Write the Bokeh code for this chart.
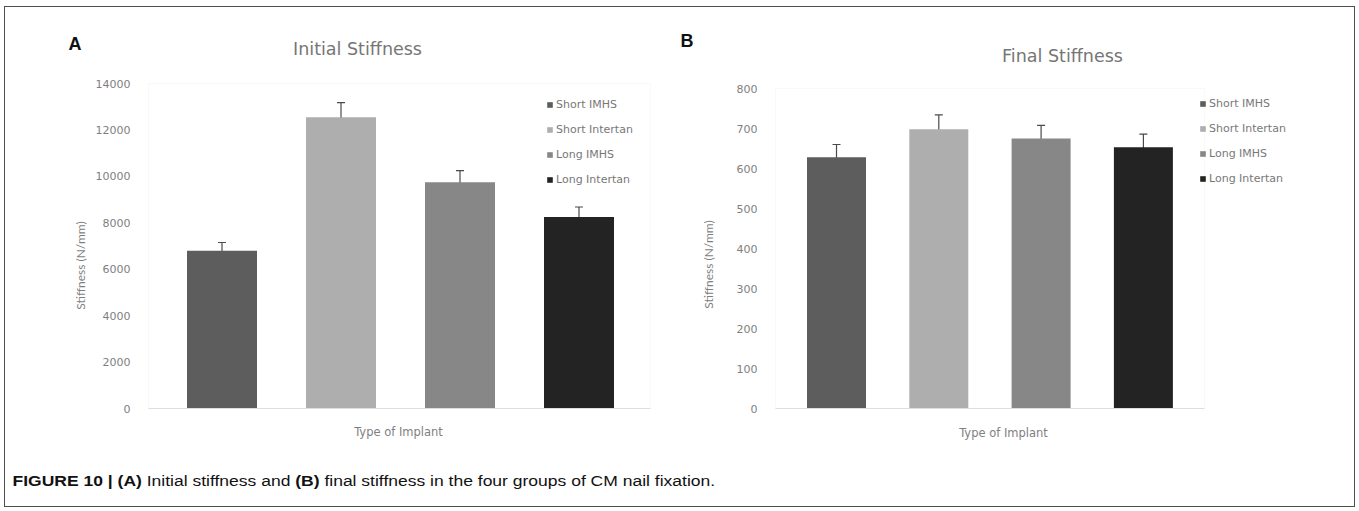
from bokeh.plotting import figure
from bokeh.models import (ColumnDataSource, Whisker, TeeHead, Legend, LegendItem,
                          Label, Div, Range1d, FixedTicker, LinearAxis, BoxAnnotation)
from bokeh.layouts import row, column
from bokeh.embed import file_html
from bokeh.resources import INLINE

# ---------------- data ----------------
groups = ["Short IMHS", "Short Intertan", "Long IMHS", "Long Intertan"]
bar_colors = ["#5d5d5d", "#aeaeae", "#878787", "#232323"]

initial_stiffness = [6800, 12550, 9750, 8250]
initial_error = [350, 630, 500, 430]
initial_ticks = [0, 2000, 4000, 6000, 8000, 10000, 12000, 14000]

final_stiffness = [628, 698, 675, 653]
final_error = [32, 36, 33, 33]
final_ticks = [0, 100, 200, 300, 400, 500, 600, 700, 800]

x_title = "Type of Implant"
y_title = "Stiffness (N/mm)"

WIDE = "DejaVu Sans"
NARROW = "Lato"
GRAY = "#7f7f7f"

# ---------------- layout geometry (page pixels) ----------------
TOP, BOTTOM = 7, 450          # vertical extent of both chart canvases


def panel(title, letter, vals, errs, ticks, fig_left, fig_right,
          area_left, area_right, area_top, area_bottom, step_px, first_px, bar_px,
          title_pos, letter_pos, ylab_pos, xlab_pos, legend_pos):
    W = fig_right - fig_left
    H = BOTTOM - TOP
    ymax = ticks[-1]
    upp = ymax / (area_bottom - area_top)          # data units per pixel
    y0 = -(BOTTOM - area_bottom) * upp
    y1 = ymax + (area_top - TOP) * upp

    def xd(px):                                      # page x -> category units
        return (px - first_px) / step_px

    x_lo, x_hi = xd(area_left), xd(area_right)

    xs = list(range(len(groups)))
    src = ColumnDataSource(dict(
        x=xs, top=vals,
        upper=[v + e for v, e in zip(vals, errs)],
        lower=[v - e for v, e in zip(vals, errs)],
        color=bar_colors, label=groups))

    p = figure(x_range=Range1d(xd(fig_left), xd(fig_right)),
               y_range=Range1d(y0, y1),
               width=W, height=H, output_backend="svg",
               toolbar_location=None, x_axis_type=None, y_axis_type=None,
               min_border=0)
    p.outline_line_color = None
    p.grid.visible = False
    p.background_fill_color = "white"
    p.border_fill_color = "white"

    # faint plot-area border
    p.add_layout(BoxAnnotation(left=x_lo, right=x_hi, bottom=0, top=ymax,
                               fill_alpha=0, line_color="#ebebeb", line_width=1))

    r = p.vbar(x="x", top="top", width=bar_px / step_px, source=src,
               color="color", line_color=None)
    head = dict(size=8, line_color="#4a4a4a", line_width=1.2)
    p.add_layout(Whisker(source=src, base="x", upper="upper", lower="lower",
                         line_color="#4a4a4a", line_width=1.2,
                         upper_head=TeeHead(**head), lower_head=TeeHead(**head)))

    ya = LinearAxis(fixed_location=x_lo, bounds=(0, ymax),
                    ticker=FixedTicker(ticks=ticks))
    ya.axis_line_color = None
    ya.major_tick_line_color = None
    ya.minor_tick_line_color = None
    ya.major_label_standoff = 12
    ya.major_label_text_font = WIDE
    ya.major_label_text_font_size = "11px"
    ya.major_label_text_color = GRAY
    p.add_layout(ya, "left")

    xa = LinearAxis(fixed_location=0, bounds=(x_lo, x_hi),
                    ticker=FixedTicker(ticks=[]))
    xa.axis_line_color = "#d9d9d9"
    xa.axis_line_width = 1
    xa.major_tick_line_color = None
    xa.minor_tick_line_color = None
    p.add_layout(xa, "below")

    def sx(px):
        return px - fig_left

    def sy(py):
        return BOTTOM - py

    p.add_layout(Label(x=sx(title_pos[0]), y=sy(title_pos[1]), x_units="screen",
                       y_units="screen", text=title, text_font=WIDE,
                       text_font_size="17.5px", text_color="#767676",
                       text_align="center", text_baseline="alphabetic"))
    p.add_layout(Label(x=sx(letter_pos[0]), y=sy(letter_pos[1]), x_units="screen",
                       y_units="screen", text=letter, text_font="Liberation Sans",
                       text_font_size="18px", text_font_style="bold",
                       text_color="#111111", text_align="left",
                       text_baseline="alphabetic"))
    p.add_layout(Label(x=sx(ylab_pos[0]), y=sy(ylab_pos[1]), x_units="screen",
                       y_units="screen", text=y_title, text_font=NARROW,
                       text_font_size="12px", text_color=GRAY, text_align="center",
                       text_baseline="middle", angle=90, angle_units="deg"))
    p.add_layout(Label(x=sx(xlab_pos[0]), y=sy(xlab_pos[1]), x_units="screen",
                       y_units="screen", text=x_title, text_font=WIDE,
                       text_font_size="11.5px", text_color=GRAY,
                       text_align="center", text_baseline="middle"))

    items = [LegendItem(label=g, renderers=[r], index=i) for i, g in enumerate(groups)]
    lg = Legend(items=items, location=(sx(legend_pos[0]) - 1, legend_pos[1]),
                orientation="vertical",
                glyph_width=7, glyph_height=7, label_height=14, spacing=11,
                label_standoff=3, padding=0, margin=0,
                label_text_font=WIDE, label_text_font_size="11px",
                label_text_color="#787878", border_line_alpha=0,
                background_fill_alpha=0)
    p.add_layout(lg)
    return p


pa = panel("Initial Stiffness", "A", initial_stiffness, initial_error, initial_ticks,
           fig_left=5, fig_right=679, area_left=148, area_right=650,
           area_top=83, area_bottom=408, step_px=119, first_px=221.5, bar_px=70,
           title_pos=(357, 48), letter_pos=(68, 43), ylab_pos=(80, 265),
           xlab_pos=(398, 431), legend_pos=(547, 264))
pb = panel("Final Stiffness", "B", final_stiffness, final_error, final_ticks,
           fig_left=679, fig_right=1354, area_left=775, area_right=1204,
           area_top=88, area_bottom=408, step_px=102.3, first_px=836, bar_px=59,
           title_pos=(1062, 55), letter_pos=(680, 40), ylab_pos=(708, 264),
           xlab_pos=(1003, 432), legend_pos=(1200, 265))

caption = Div(
    text=('<div style="padding:21px 0 0 6px; white-space:nowrap; '
          'font-family:\'Liberation Sans\', Arial, sans-serif; font-size:14px; color:#111; '
          'transform:scaleX(1.25); transform-origin:0 0;">'
          '<b>FIGURE 10 | (A)</b> Initial stiffness and <b>(B)</b> final stiffness '
          'in the four groups of CM nail fixation.</div>'),
    width=1349, height=56, margin=0)

layout = column(row(pa, pb), caption,
                styles={"border": "1px solid #4d4d4d", "background": "white",
                        "transform": "translate(4px, 6px)"})

open("out.html", "w").write(file_html(layout, INLINE))
